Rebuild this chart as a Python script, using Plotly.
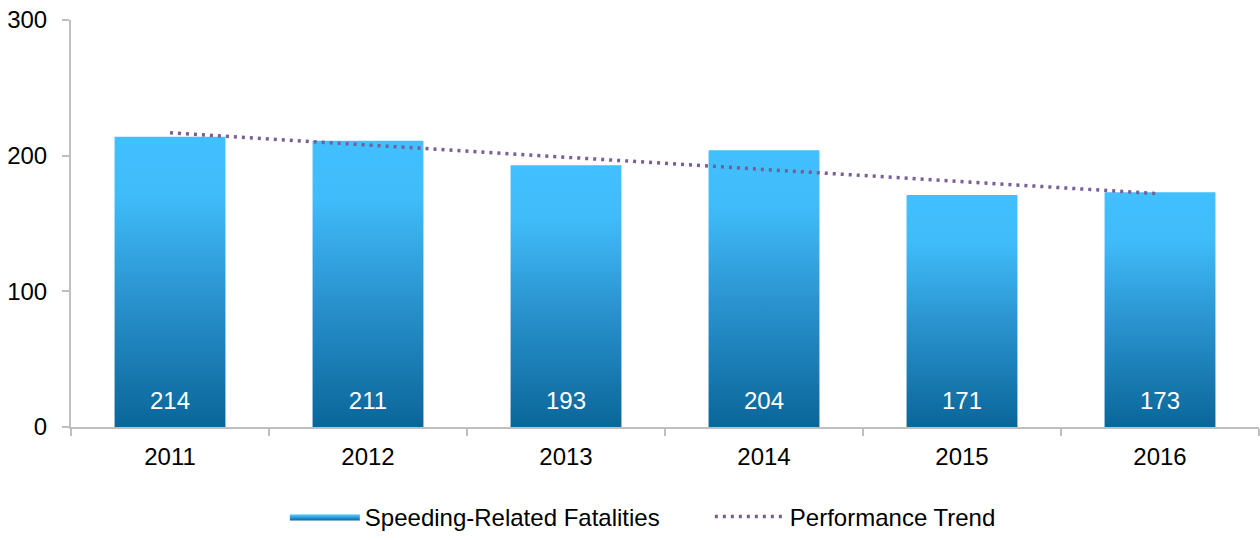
import plotly.graph_objects as go

# values
years = ["2011", "2012", "2013", "2014", "2015", "2016"]
fatalities = [214, 211, 193, 204, 171, 173]
trend = [216.8, 207.8, 198.8, 189.9, 180.9, 171.9]

bar_w = 0.56
font = "Liberation Sans, Arial, sans-serif"
grad = [[0, "#0a6699"], [0.45, "#2a93cf"], [0.8, "#40bcfa"], [1, "#42bfff"]]

fig = go.Figure()

# gradient bars, one filled shape per year
for i, v in enumerate(fatalities):
    fig.add_trace(go.Scatter(
        x=[i - bar_w / 2, i - bar_w / 2, i + bar_w / 2, i + bar_w / 2, i - bar_w / 2],
        y=[0, v, v, 0, 0],
        mode="lines",
        line=dict(width=0, color="#2a93cf"),
        fill="toself",
        fillgradient=dict(type="vertical", colorscale=grad),
        name="Speeding-Related Fatalities",
        legendgroup="bars",
        showlegend=(i == 0),
        hoverinfo="skip",
    ))

# value labels near bar base
fig.add_trace(go.Scatter(
    x=list(range(len(years))),
    y=[18] * len(years),
    mode="text",
    text=[str(v) for v in fatalities],
    textfont=dict(color="white", size=24, family=font),
    showlegend=False,
    hoverinfo="skip",
))

fig.add_trace(go.Scatter(
    x=list(range(len(years))),
    y=trend,
    mode="lines",
    line=dict(color="#7a5c96", width=3.5, dash="3px,5px"),
    name="Performance Trend",
))

fig.update_layout(
    width=1260, height=540,
    margin=dict(l=71, r=1, t=20, b=113),
    plot_bgcolor="white", paper_bgcolor="white",
    font=dict(family=font, size=24, color="black"),
    xaxis=dict(
        range=[-0.5, 5.5],
        tickmode="array",
        tickvals=list(range(len(years))),
        ticktext=years,
        ticks="",
        ticklabelstandoff=7,
        automargin=False,
        showgrid=False, zeroline=False,
        showline=True, linecolor="#bfbfbf", linewidth=2,
        minor=dict(tickmode="array", tickvals=[k - 0.5 for k in range(len(years) + 1)],
                   ticks="outside", ticklen=7, tickcolor="#bfbfbf", tickwidth=2, showgrid=False),
    ),
    yaxis=dict(
        range=[0, 300],
        tickvals=[0, 100, 200, 300],
        ticks="outside", ticklen=7, tickcolor="#bfbfbf", tickwidth=2,
        ticklabelstandoff=10,
        automargin=False,
        showgrid=False, zeroline=False,
        showline=True, linecolor="#bfbfbf", linewidth=2,
    ),
    legend=dict(orientation="h", x=0.18, xanchor="left", y=-0.221, yanchor="middle",
                font=dict(size=24), itemwidth=70, entrywidth=340),
)

fig.write_html("out.html", config={"displayModeBar": False},
               post_script="document.body.style.margin='0';")
